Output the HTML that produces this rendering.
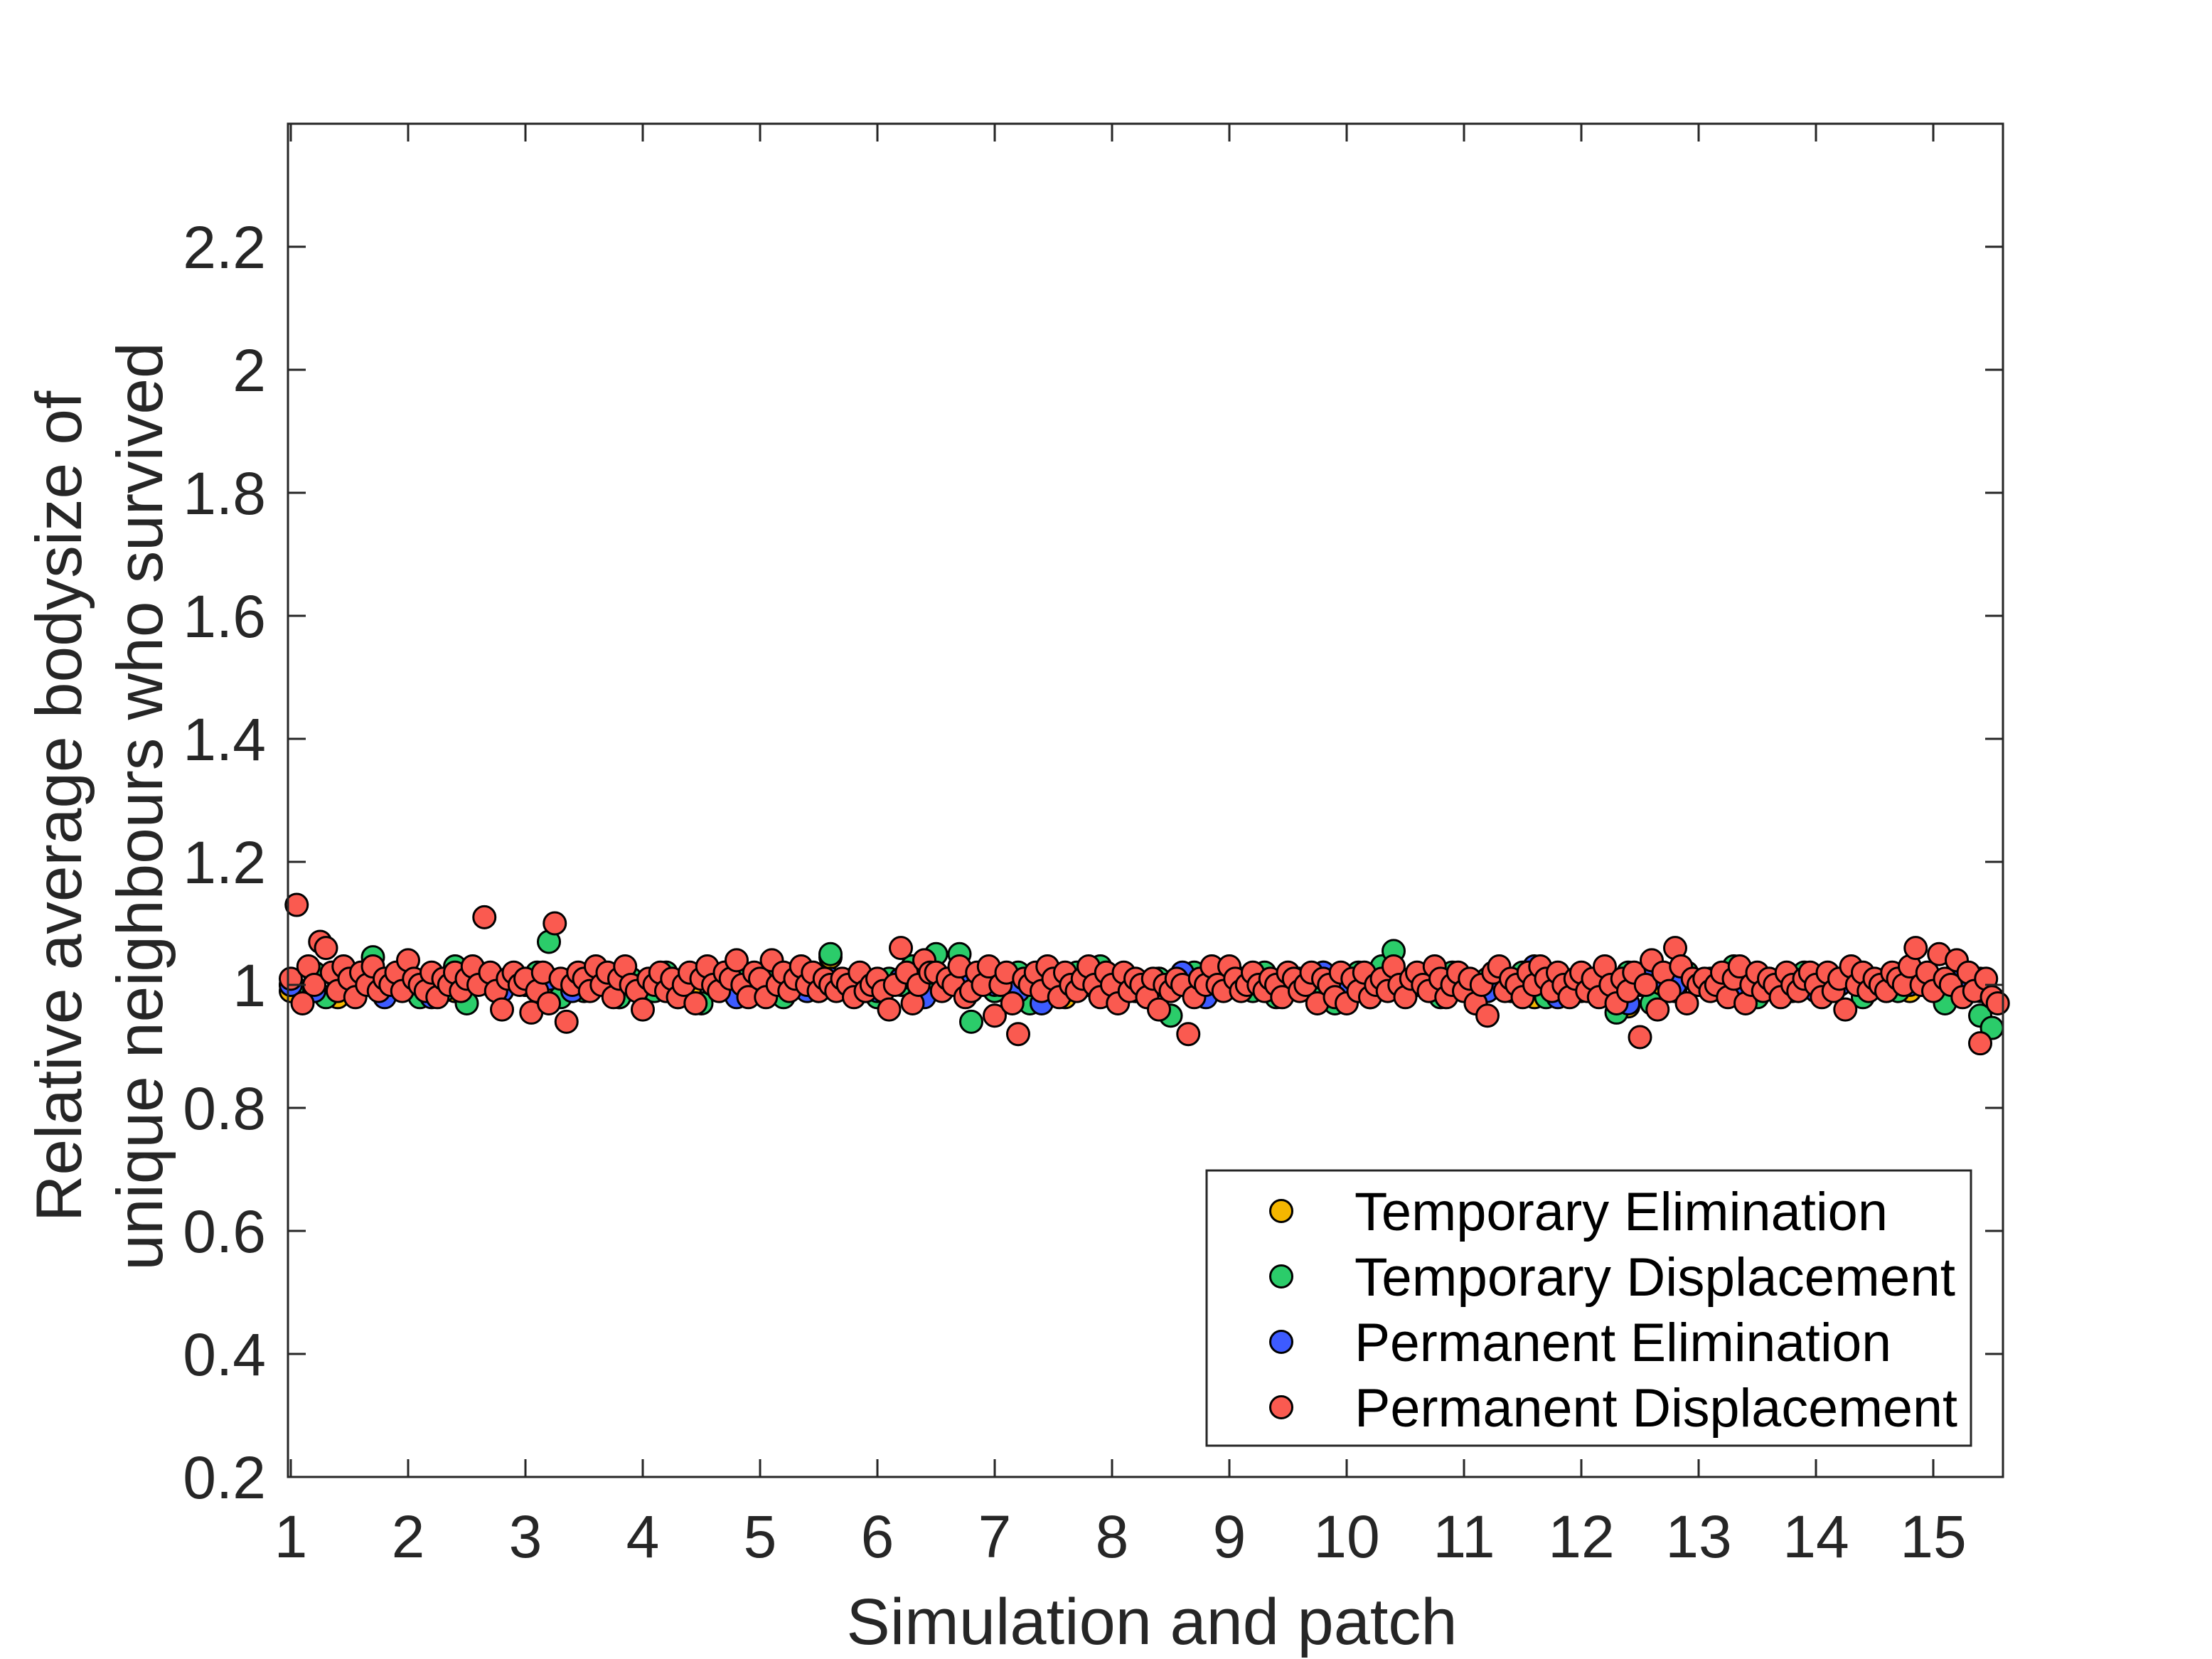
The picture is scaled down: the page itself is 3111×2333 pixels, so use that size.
<!DOCTYPE html>
<html><head><meta charset="utf-8"><style>
html,body{margin:0;padding:0;background:#fff;}
svg{display:block;font-family:"Liberation Sans",Arial,sans-serif;}
</style></head><body>
<svg id="chart" width="3111" height="2333" viewBox="0 0 3111 2333" xmlns="http://www.w3.org/2000/svg">
<rect x="0" y="0" width="3111" height="2333" fill="#fff"/>
<g id="marks"></g>
<g id="axes"></g>
<text x="1620" y="2312" font-size="92" fill="#262626" text-anchor="middle">Simulation and patch</text>
<g transform="translate(0,1134) rotate(-90)">
<text x="0" y="114" font-size="91" fill="#262626" text-anchor="middle">Relative average bodysize of</text>
<text x="0" y="228" font-size="91" fill="#262626" text-anchor="middle">unique neighbours who survived</text>
</g>
<g id="legend">
<rect x="1697" y="1646" width="1075" height="387" fill="#fff" stroke="#262626" stroke-width="3"/>
</g>
</svg>
<script>
const seriesNames = ["Temporary Elimination","Temporary Displacement","Permanent Elimination","Permanent Displacement"];
const seriesColors = ["#f5b700","#2bcc6a","#3d5bff","#fa5a50"];
const yTicks = [0.2,0.4,0.6,0.8,1,1.2,1.4,1.6,1.8,2,2.2];
const yTickLabels = ["0.2","0.4","0.6","0.8","1","1.2","1.4","1.6","1.8","2","2.2"];
const xTicks = [1,2,3,4,5,6,7,8,9,10,11,12,13,14,15];
const xTickLabels = ["1","2","3","4","5","6","7","8","9","10","11","12","13","14","15"];
const perSimRed = 20, perSimGreen = 10, perSimBlue = 5, perSimYellow = 5;
const redValues = [
1.01,1.13,0.97,1.03,1.00,1.07,1.06,1.02,0.99,1.03,1.01,0.98,1.02,1.00,1.03,0.99,1.01,1.00,1.02,0.99,
1.04,1.01,1.00,0.99,1.02,0.98,1.01,1.00,1.02,0.99,1.01,1.03,1.00,1.11,1.02,0.99,0.96,1.01,1.02,1.00,
1.01,0.955,0.99,1.02,0.97,1.10,1.01,0.94,1.00,1.02,1.01,0.99,1.03,1.00,1.02,0.98,1.01,1.03,1.00,0.99,
0.96,1.01,1.00,1.02,0.99,1.01,0.98,1.00,1.02,0.97,1.01,1.03,1.00,0.99,1.02,1.01,1.04,1.00,0.98,1.02,
1.01,0.98,1.04,1.00,1.02,0.99,1.01,1.03,1.00,1.02,0.99,1.01,1.00,0.99,1.01,1.00,0.98,1.02,0.99,1.00,
1.01,0.99,0.96,1.00,1.06,1.02,0.97,1.00,1.04,1.02,1.02,0.99,1.01,1.00,1.03,0.98,0.99,1.02,1.00,1.03,
0.95,1.00,1.02,0.97,0.92,1.01,1.00,1.02,0.99,1.03,1.01,0.98,1.02,1.00,0.99,1.01,1.03,1.00,0.98,1.02,
1.00,0.97,1.02,0.99,1.01,1.00,0.98,1.01,0.96,1.00,0.99,1.01,1.00,0.92,0.98,1.01,1.00,1.03,1.00,0.99,
1.03,1.01,0.99,1.00,1.02,1.00,0.99,1.01,1.00,0.98,1.02,1.01,0.99,1.00,1.02,0.97,1.01,1.00,0.98,1.02,
0.97,1.01,0.99,1.02,0.98,1.00,1.01,0.99,1.03,1.00,0.98,1.01,1.02,1.00,0.99,1.03,1.01,0.98,1.00,1.02,
0.99,1.01,0.97,1.00,0.95,1.02,1.03,0.99,1.01,1.00,0.98,1.02,1.00,1.03,1.01,0.99,1.02,1.00,0.98,1.01,
1.02,0.99,1.01,0.98,1.03,1.00,0.97,1.01,0.99,1.02,0.915,1.00,1.04,0.96,1.02,0.99,1.06,1.03,0.97,1.01,
1.00,1.01,0.99,1.00,1.02,0.98,1.01,1.03,0.97,1.00,1.02,0.99,1.01,1.00,0.98,1.02,1.00,0.99,1.01,1.02,
1.00,0.98,1.02,0.99,1.01,0.96,1.03,1.00,1.02,0.99,1.01,1.00,0.99,1.02,1.01,1.00,1.03,1.06,1.00,1.02,
0.99,1.05,1.01,1.00,1.04,0.98,1.02,0.99,0.905,1.01,0.98,0.97];
const greenValues = [
1.00,0.99,1.02,0.98,1.01,1.00,1.02,1.045,0.99,1.01,
1.00,0.98,1.01,0.99,1.03,0.97,1.02,1.00,0.99,1.01,
1.00,1.02,1.07,0.98,1.01,0.99,1.02,1.00,0.98,1.01,
1.00,0.99,1.02,0.98,1.01,0.97,1.00,1.02,1.01,0.99,
1.00,1.01,0.98,1.02,1.00,0.99,1.05,1.00,1.01,0.99,
0.98,1.01,1.00,1.03,0.99,1.05,1.00,1.05,0.94,1.01,
0.99,1.00,1.02,0.97,1.01,1.00,0.99,1.02,1.00,1.03,
1.01,1.00,0.99,0.98,1.01,0.95,1.00,1.02,0.99,1.01,
1.00,1.01,0.99,1.02,0.98,1.00,1.01,0.99,1.02,0.97,
1.00,1.02,0.98,1.03,1.055,0.99,1.01,1.00,0.98,1.02,
1.00,0.97,1.01,1.00,0.99,1.02,1.00,0.98,1.01,0.99,
1.01,1.00,0.99,0.955,1.02,1.00,0.97,1.01,0.99,1.02,
1.00,1.01,0.99,1.03,1.00,0.98,1.01,1.00,0.99,1.02,
1.00,0.99,1.01,1.02,0.98,1.00,1.01,0.99,1.02,1.00,
1.00,0.97,1.02,1.00,0.95,0.93];
const blueValues = [
1.00,0.99,1.01,1.00,0.98, 1.01,0.98,1.00,1.02,0.99, 1.00,1.01,0.99,1.00,1.01,
1.00,0.99,1.01,1.00,0.98, 1.01,1.00,0.99,1.01,1.00, 0.99,1.01,0.98,1.00,1.01,
1.00,0.99,0.97,1.01,1.00, 1.01,0.99,1.00,1.02,0.98, 1.00,1.01,0.99,1.00,1.02,
1.00,0.99,1.01,1.00,1.00, 1.01,0.99,1.00,1.03,0.98, 0.99,1.00,0.97,1.01,1.00,
1.00,1.01,0.99,1.00,1.01, 0.99,1.00,1.01,0.99,1.00, 1.00,1.01,0.99];
const yellowValues = [
0.99,1.00,0.98,1.01,1.00, 1.00,1.01,0.99,1.02,0.99, 1.00,0.99,1.01,1.00,0.98,
1.00,1.01,0.99,1.00,1.02, 1.00,0.99,1.01,1.045,1.00, 1.00,1.01,0.99,1.00,0.99,
0.99,1.00,1.01,0.98,1.00, 1.00,0.99,1.01,1.00,0.99, 1.01,1.00,0.99,1.00,1.00,
1.00,0.98,1.01,1.00,0.99, 1.00,0.99,1.01,0.98,1.00, 1.00,1.01,0.965,1.00,0.99,
1.00,1.01,0.99,1.00,1.00, 0.99,1.00,1.01,1.00,0.99, 1.00,0.99,1.01];

const X0 = 405, X1 = 2817, Y0 = 2077, Y1 = 174;
const yMin = 0.2, yMax = 2.4;
function xScale(v){ return 409 + (v - 1) * 165; }
function yScale(v){ return Y0 - (v - yMin) / (yMax - yMin) * (Y0 - Y1); }
const NS = "http://www.w3.org/2000/svg";
function mk(tag, attrs, parent){ const e = document.createElementNS(NS, tag); for (const k in attrs) e.setAttribute(k, attrs[k]); parent.appendChild(e); return e; }

const marks = document.getElementById('marks');
const allSeries = [[yellowValues, perSimYellow], [greenValues, perSimGreen], [blueValues, perSimBlue], [redValues, perSimRed]];
allSeries.forEach(function(s, si){
  const vals = s[0], per = s[1];
  vals.forEach(function(v, i){
    const c = mk('circle', {cx: xScale(1 + i / per), cy: yScale(v), r: 15.5, fill: seriesColors[si], stroke: '#000', 'stroke-width': 3}, marks);
    
    
  });
});

const axes = document.getElementById('axes');
const frame = mk('rect', {x: X0, y: Y1, width: X1 - X0, height: Y0 - Y1, fill: 'none', stroke: '#262626', 'stroke-width': 3}, axes);


yTicks.forEach(function(t, i){
  const y = yScale(t);
  mk('line', {x1: X0, x2: X0 + 25, y1: y, y2: y, stroke: '#262626', 'stroke-width': 3}, axes);
  mk('line', {x1: X1, x2: X1 - 25, y1: y, y2: y, stroke: '#262626', 'stroke-width': 3}, axes);
  const tx = mk('text', {x: 374, y: y + 30, 'font-size': 84, fill: '#262626', 'text-anchor': 'end'}, axes);
  tx.textContent = yTickLabels[i];
  
  
});
xTicks.forEach(function(t, i){
  const x = xScale(t);
  mk('line', {x1: x, x2: x, y1: Y0, y2: Y0 - 25, stroke: '#262626', 'stroke-width': 3}, axes);
  mk('line', {x1: x, x2: x, y1: Y1, y2: Y1 + 25, stroke: '#262626', 'stroke-width': 3}, axes);
  const tx = mk('text', {x: x, y: 2190, 'font-size': 84, fill: '#262626', 'text-anchor': 'middle'}, axes);
  tx.textContent = xTickLabels[i];
  
  
});

const legend = document.getElementById('legend');
const legendWidths = [750, 845, 755, 848];
seriesNames.forEach(function(n, i){
  const cy = 1703 + i * 92;
  const g = mk('g', {}, legend);
  
  
  mk('circle', {cx: 1802, cy: cy, r: 15.5, fill: seriesColors[i], stroke: '#000', 'stroke-width': 3}, g);
  const t = mk('text', {x: 1905, y: cy + 27, 'font-size': 76, fill: '#000', textLength: legendWidths[i], lengthAdjust: 'spacingAndGlyphs'}, g);
  t.textContent = n;
});
</script>
</body></html>
